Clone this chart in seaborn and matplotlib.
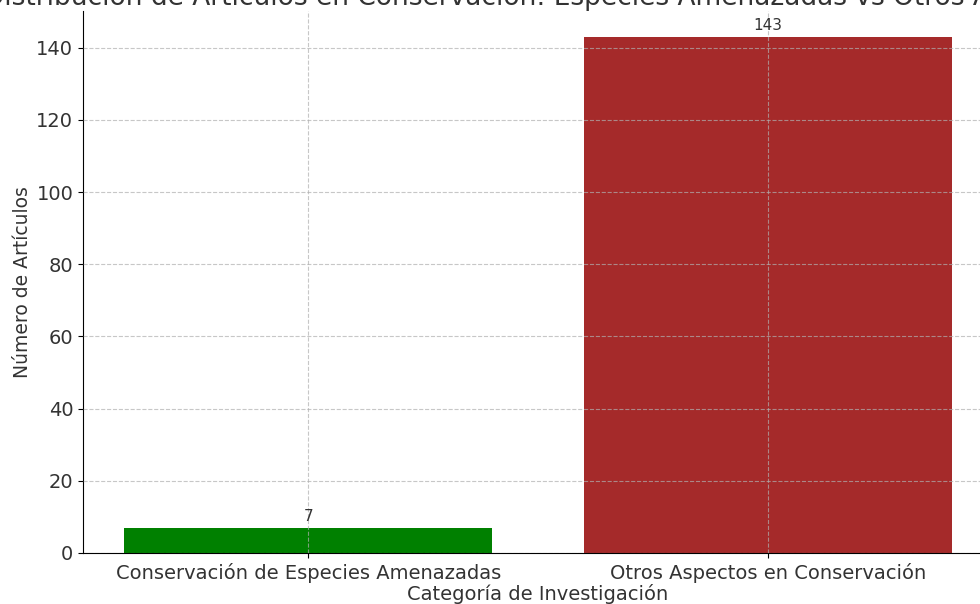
import pandas as pd
import matplotlib
matplotlib.use('Agg')
import matplotlib.pyplot as plt
import seaborn as sns

# Data
categories = ['Conservación de Especies Amenazadas', 'Otros Aspectos en Conservación']
counts = [7, 143]
colors = ['green', 'brown']

df = pd.DataFrame({'Categoria': categories, 'Articulos': counts})

fig = plt.figure(figsize=(9.8, 6.04), dpi=100)
# axes run slightly past the right edge, as in the reference crop
ax = fig.add_axes([83 / 980, 51 / 604, 910 / 980, 542 / 604])

sns.barplot(data=df, x='Categoria', y='Articulos', hue='Categoria',
            palette=colors, legend=False, width=0.8, saturation=1, ax=ax)

ax.set_xlim(-0.49, 1.49)
ax.set_ylim(0, max(counts) * 1.05)

# value labels above each bar
for i, v in enumerate(counts):
    ax.text(i, v + 1, str(v), ha='center', va='bottom', fontsize=11, color='#333333')

ax.set_title('Distribución de Artículos en Conservación: Especies Amenazadas vs Otros Aspectos',
             fontsize=19, color='#333333', pad=2.5)
ax.set_xlabel('Categoría de Investigación', fontsize=14, color='#333333', labelpad=1)
ax.set_ylabel('Número de Artículos', fontsize=13.5, color='#333333', labelpad=3)
ax.tick_params(axis='both', labelsize=14, labelcolor='#333333')

ax.grid(True, linestyle='--', alpha=0.7)
ax.set_axisbelow(False)
ax.spines['top'].set_visible(False)
ax.spines['right'].set_visible(False)

plt.savefig('out.png', dpi=100)
